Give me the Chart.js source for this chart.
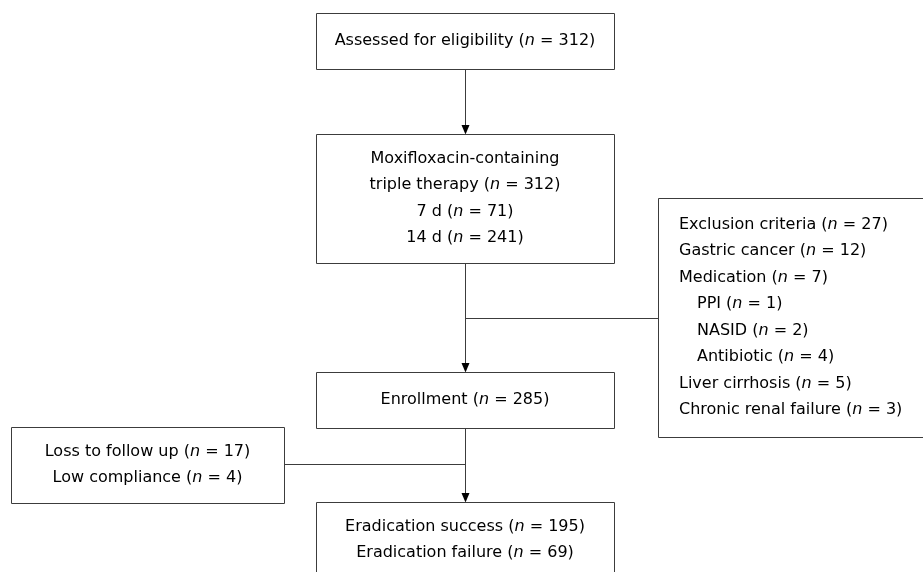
<!DOCTYPE html>
<html>
<head>
<meta charset="utf-8">
<script src="https://cdn.jsdelivr.net/npm/chart.js@4/dist/chart.umd.min.js"></script>
<style>
  html, body { margin: 0; padding: 0; background: #ffffff; }
  #wrap { width: 923px; height: 572px; }
</style>
</head>
<body>
<div id="wrap"><canvas id="c" width="923" height="572"></canvas></div>
<script>
// ---------------- DATA ----------------
const assessedLabel = 'Assessed for eligibility';
const assessedCount = 312;

const therapyLabels = ['triple therapy', '7 d', '14 d'];
const therapyCounts = [312, 71, 241];

const exclusionLabels = ['Exclusion criteria', 'Gastric cancer', 'Medication', 'PPI', 'NASID', 'Antibiotic', 'Liver cirrhosis', 'Chronic renal failure'];
const exclusionCounts = [27, 12, 7, 1, 2, 4, 5, 3];
const exclusionIndent = [0, 0, 0, 1, 1, 1, 0, 0];

const enrollmentLabel = 'Enrollment';
const enrollmentCount = 285;

const lossLabels = ['Loss to follow up', 'Low compliance'];
const lossCounts = [17, 4];

const outcomeLabels = ['Eradication success', 'Eradication failure'];
const outcomeCounts = [195, 69];

// ---------------- LAYOUT (data-space units on a 0..923 x 0..572 grid) ----------------
const layout = {
  axisX: 465,
  boxAssessed:  { x1: 316, y1: 13,  x2: 614, y2: 69 },
  boxTherapy:   { x1: 316, y1: 134, x2: 614, y2: 263 },
  boxExclusion: { x1: 658, y1: 198, x2: 930, y2: 437 },
  boxEnroll:    { x1: 316, y1: 372, x2: 614, y2: 428 },
  boxLoss:      { x1: 11,  y1: 427, x2: 284, y2: 503 },
  boxOutcome:   { x1: 316, y1: 502, x2: 614, y2: 590 },
  outcomeTextCenterY: 540,
  branchExclY: 318,
  branchLossY: 464,
  lineGap: 26.5,
  textLeft: 679,
  textIndent: 18
};

const FONT = "'DejaVu Sans', Verdana, sans-serif";
const FSIZE = 16;
const TEXT_COLOR = '#000000';
const LINE_COLOR = '#3c3c3c';

function nLine(label, count) {
  return [label + ' (', { it: 'n' }, ' = ' + count + ')'];
}

const flowPlugin = {
  id: 'flow',
  afterDraw(chart) {
    const { ctx, scales } = chart;
    const X = v => scales.x.getPixelForValue(v);
    const Y = v => scales.y.getPixelForValue(v);
    const crisp = v => Math.round(v) + 0.5;

    ctx.save();
    ctx.lineWidth = 1;

    function rect(b) {
      ctx.strokeStyle = LINE_COLOR;
      ctx.beginPath();
      ctx.rect(crisp(X(b.x1)), crisp(Y(b.y1)), Math.round(X(b.x2) - X(b.x1)), Math.round(Y(b.y2) - Y(b.y1)));
      ctx.stroke();
    }
    function line(x1, y1, x2, y2) {
      ctx.strokeStyle = LINE_COLOR;
      ctx.beginPath();
      ctx.moveTo(crisp(X(x1)), crisp(Y(y1)));
      ctx.lineTo(crisp(X(x2)), crisp(Y(y2)));
      ctx.stroke();
    }
    function arrow(x, y1, y2) {
      const px = crisp(X(x)), py1 = crisp(Y(y1)), py2 = Math.round(Y(y2));
      ctx.strokeStyle = LINE_COLOR;
      ctx.beginPath();
      ctx.moveTo(px, py1);
      ctx.lineTo(px, py2 - 6);
      ctx.stroke();
      ctx.fillStyle = '#000';
      ctx.beginPath();
      ctx.moveTo(px - 4, py2 - 9);
      ctx.lineTo(px + 4, py2 - 9);
      ctx.lineTo(px, py2 + 0.5);
      ctx.closePath();
      ctx.fill();
    }
    function segWidth(seg) {
      let w = 0;
      seg.forEach(s => {
        if (typeof s === 'string') { ctx.font = FSIZE + 'px ' + FONT; w += ctx.measureText(s).width; }
        else { ctx.font = 'italic ' + FSIZE + 'px ' + FONT; w += ctx.measureText(s.it).width; }
      });
      return w;
    }
    function drawSegs(seg, px, py) {
      ctx.fillStyle = TEXT_COLOR;
      ctx.textBaseline = 'middle';
      ctx.textAlign = 'left';
      let cx = px;
      seg.forEach(s => {
        if (typeof s === 'string') { ctx.font = FSIZE + 'px ' + FONT; ctx.fillText(s, cx, py); cx += ctx.measureText(s).width; }
        else { ctx.font = 'italic ' + FSIZE + 'px ' + FONT; ctx.fillText(s.it, cx, py); cx += ctx.measureText(s.it).width; }
      });
    }
    function centeredAt(lines, cxData, cyData) {
      const cx = X(cxData);
      const cy = Y(cyData);
      const gap = Y(layout.lineGap) - Y(0);
      const top = cy - gap * (lines.length - 1) / 2;
      lines.forEach((seg, i) => {
        const w = segWidth(seg);
        drawSegs(seg, cx - w / 2, top + gap * i);
      });
    }
    const mid = b => [(b.x1 + b.x2) / 2, (b.y1 + b.y2) / 2];

    const L = layout;
    // connectors
    arrow(L.axisX, L.boxAssessed.y2, L.boxTherapy.y1);
    arrow(L.axisX, L.boxTherapy.y2, L.boxEnroll.y1);
    line(L.axisX, L.branchExclY, L.boxExclusion.x1, L.branchExclY);
    arrow(L.axisX, L.boxEnroll.y2, L.boxOutcome.y1);
    line(L.boxLoss.x2, L.branchLossY, L.axisX, L.branchLossY);

    // boxes
    [L.boxAssessed, L.boxTherapy, L.boxExclusion, L.boxEnroll, L.boxLoss, L.boxOutcome].forEach(rect);

    // texts
    centeredAt([nLine(assessedLabel, assessedCount)], ...mid(L.boxAssessed));
    const therapyLines = [['Moxifloxacin-containing']].concat(therapyLabels.map((t, i) => nLine(t, therapyCounts[i])));
    centeredAt(therapyLines, ...mid(L.boxTherapy));
    centeredAt([nLine(enrollmentLabel, enrollmentCount)], ...mid(L.boxEnroll));
    centeredAt(lossLabels.map((t, i) => nLine(t, lossCounts[i])), ...mid(L.boxLoss));
    centeredAt(outcomeLabels.map((t, i) => nLine(t, outcomeCounts[i])), (L.boxOutcome.x1 + L.boxOutcome.x2) / 2, L.outcomeTextCenterY);

    // exclusion list (left aligned)
    const eb = L.boxExclusion;
    const gap = Y(L.lineGap) - Y(0);
    const cy = (Y(eb.y1) + Y(eb.y2)) / 2;
    const top = cy - gap * (exclusionLabels.length - 1) / 2;
    exclusionLabels.forEach((t, i) => {
      const px = X(L.textLeft + exclusionIndent[i] * L.textIndent);
      drawSegs(nLine(t, exclusionCounts[i]), px, top + gap * i);
    });

    ctx.restore();
  }
};

new Chart(document.getElementById('c'), {
  type: 'scatter',
  data: { datasets: [{ data: [], pointRadius: 0 }] },
  options: {
    responsive: false,
    maintainAspectRatio: false,
    animation: false,
    events: [],
    layout: { padding: 0 },
    plugins: { legend: { display: false }, tooltip: { enabled: false }, title: { display: false } },
    scales: {
      x: { type: 'linear', min: 0, max: 923, display: false },
      y: { type: 'linear', min: 0, max: 572, reverse: true, display: false }
    }
  },
  plugins: [flowPlugin]
});
</script>
</body>
</html>
